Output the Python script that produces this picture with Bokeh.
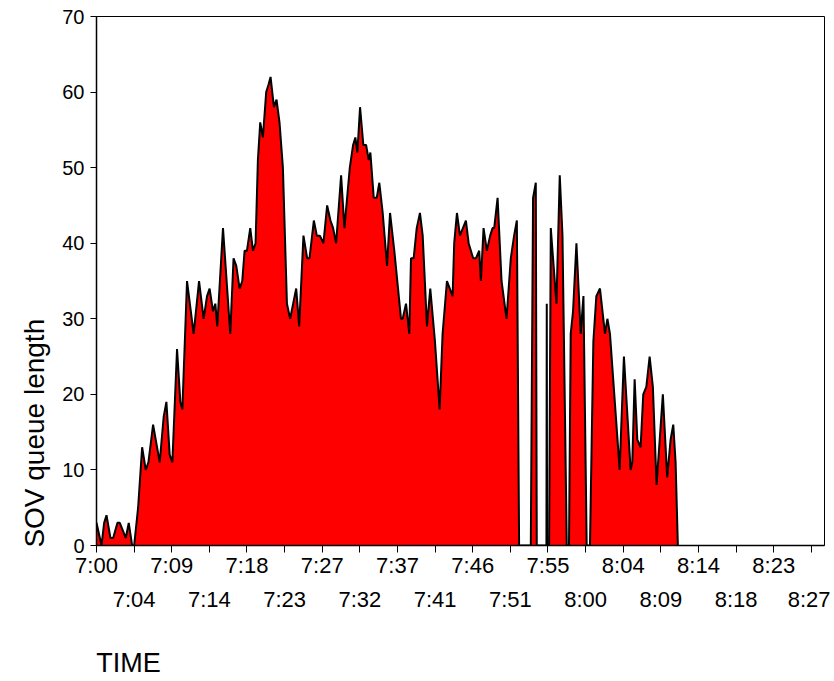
import math
from bokeh.plotting import figure
from bokeh.models import Range1d, LinearAxis, FixedTicker, ColumnDataSource
from bokeh.embed import file_html
from bokeh.resources import INLINE

# time of each sample, in minutes after 7:00
minutes = [0.0, 0.62, 0.95, 1.24, 1.73, 2.07, 2.60, 2.89, 3.63, 4.00,
           4.42, 4.67, 5.16, 5.66, 6.11, 6.44, 7.02, 7.84, 8.33, 8.67,
           9.08, 9.41, 9.99, 10.40, 10.65, 11.23, 12.05, 12.72, 13.29, 13.71,
           14.03, 14.45, 14.74, 14.98, 15.69, 16.59, 17.00, 17.34, 17.75, 18.08,
           18.37, 18.66, 19.07, 19.41, 19.73, 20.02, 20.31, 20.64, 21.05, 21.34,
           21.59, 22.01, 22.33, 22.70, 23.12, 23.62, 24.02, 24.77, 25.14, 25.67,
           26.13, 26.42, 26.96, 27.33, 27.70, 28.15, 28.61, 29.02, 29.35, 29.72,
           30.34, 30.75, 31.42, 31.83, 32.11, 32.36, 32.69, 33.10, 33.44, 33.77,
           33.97, 34.39, 34.76, 35.08, 35.50, 36.04, 36.41, 36.94, 37.77, 37.98,
           38.39, 38.80, 39.01, 39.34, 39.72, 40.12, 40.46, 40.99, 41.40, 41.98,
           42.56, 42.93, 43.47, 44.17, 44.37, 44.71, 45.08, 45.82, 46.16, 46.72,
           47.06, 47.47, 47.68, 48.01, 48.42, 48.83, 49.13, 49.33, 49.75, 50.24,
           50.86, 51.39, 51.80, 52.14, 52.42, 53.87, 54.15, 54.49, 54.61, 55.44,
           55.81, 55.85, 55.89, 56.14, 56.35, 57.05, 57.46, 57.80, 58.33, 58.61,
           58.82, 59.11, 59.53, 60.06, 60.40, 60.80, 61.21, 61.63, 62.00, 62.45,
           63.07, 63.37, 63.69, 64.89, 65.42, 66.25, 66.46, 66.75, 67.08, 67.49,
           67.82, 68.20, 68.61, 69.01, 69.47, 70.25, 70.79, 71.21, 71.54, 71.83,
           72.11]

# SOV queue length
queue = [3, 0, 3, 4, 1, 1, 3, 3, 1, 3,
         0, 0, 5, 13, 10, 11, 16, 11, 17, 19,
         12, 11, 26, 19, 18, 35, 28, 35, 30, 33,
         34, 31, 32, 29, 42, 28, 38, 37, 34, 35,
         39, 39, 42, 39, 40, 51, 56, 54, 60, 61,
         62, 58, 59, 56, 50, 32, 30, 34, 29, 41,
         38, 38, 43, 41, 41, 40, 45, 43, 42, 40,
         49, 42, 50, 53, 54, 52, 58, 53, 53, 51,
         52, 46, 46, 48, 44, 37, 44, 39, 30, 30,
         32, 28, 38, 38, 42, 44, 41, 29, 34, 27,
         18, 28, 35, 33, 40, 44, 41, 43, 40, 38,
         38, 39, 35, 42, 39, 41, 42, 42, 46, 35,
         30, 38, 41, 43, 0, 0, 46, 48, 0, 0,
         0, 32, 0, 0, 42, 32, 49, 41, 0, 0,
         28, 31, 40, 28, 33, 0, 0, 27, 33, 34,
         28, 30, 28, 10, 25, 10, 11, 22, 14, 13,
         20, 21, 25, 21, 8, 20, 9, 14, 16, 11,
         0]

tick_labels = ["7:00", "7:04", "7:09", "7:14", "7:18", "7:23", "7:27", "7:32",
               "7:37", "7:41", "7:46", "7:51", "7:55", "8:00", "8:04", "8:09",
               "8:14", "8:18", "8:23", "8:27"]
tick_step_seconds = 280
y_ticks = [0, 10, 20, 30, 40, 50, 60, 70]
x_title = "TIME"
y_title = "SOV queue length"

seconds = [m * 60 for m in minutes]
src = ColumnDataSource(dict(x=seconds, y=queue, base=[0] * len(queue)))

tick_pos = [i * tick_step_seconds for i in range(len(tick_labels))]
row1 = {t: (lab if i % 2 == 0 else "") for i, (t, lab) in enumerate(zip(tick_pos, tick_labels))}
row2 = {t: (lab if i % 2 == 1 else "") for i, (t, lab) in enumerate(zip(tick_pos, tick_labels))}

FONT = "Liberation Sans"

p = figure(width=830, height=681, output_backend="svg", toolbar_location=None,
           x_range=Range1d(0, 90.3 * 60), y_range=Range1d(0, 70),
           min_border_left=95, min_border_right=6, min_border_top=16,
           min_border_bottom=136)
p.background_fill_color = "white"
p.border_fill_color = "white"
p.outline_line_color = "black"
p.outline_line_width = 1
p.xgrid.visible = False
p.ygrid.visible = False

p.varea(x="x", y1="base", y2="y", source=src, fill_color="#FF0000")
p.line(x="x", y="y", source=src, line_color="black", line_width=2)


def bare_axis(axis, standoff, size):
    axis.axis_line_color = None
    axis.major_tick_line_color = None
    axis.minor_tick_line_color = None
    axis.major_tick_out = 0
    axis.major_tick_in = 0
    axis.major_label_standoff = standoff
    axis.major_label_text_font = FONT
    axis.major_label_text_font_size = size
    axis.major_label_text_color = "black"


xa = p.xaxis[0]
xa.ticker = FixedTicker(ticks=tick_pos)
xa.major_label_overrides = row1
xa.minor_tick_line_color = None
xa.major_tick_out = 7
xa.major_tick_in = 0
xa.major_label_standoff = 0
xa.major_label_text_font = FONT
xa.major_label_text_font_size = "22px"
xa.major_label_text_color = "black"
xa.axis_line_width = 1.5
xa.major_tick_line_width = 1

xa2 = LinearAxis(ticker=FixedTicker(ticks=tick_pos), major_label_overrides=row2)
bare_axis(xa2, 6, "22px")
p.add_layout(xa2, "below")

# "TIME" caption, left-aligned under the axis
x_title_pos = 238
xa3 = LinearAxis(ticker=FixedTicker(ticks=[x_title_pos]),
                 major_label_overrides={x_title_pos: x_title})
bare_axis(xa3, 33, "27px")
p.add_layout(xa3, "below")

ya = p.yaxis[0]
ya.ticker = FixedTicker(ticks=y_ticks)
ya.minor_tick_line_color = None
ya.major_tick_out = 6
ya.major_tick_in = 0
ya.major_label_standoff = 6
ya.major_label_text_font = FONT
ya.major_label_text_font_size = "20px"
ya.major_label_text_color = "black"
ya.axis_line_width = 1.5

# "SOV queue length" caption, rotated, running up from the bottom of the axis
y_title_pos = 30
ya2 = LinearAxis(ticker=FixedTicker(ticks=[y_title_pos]),
                 major_label_overrides={y_title_pos: y_title})
bare_axis(ya2, 25, "28px")
ya2.major_label_orientation = math.pi / 2
p.add_layout(ya2, "left")

open("out.html", "w").write(file_html(p, INLINE))
